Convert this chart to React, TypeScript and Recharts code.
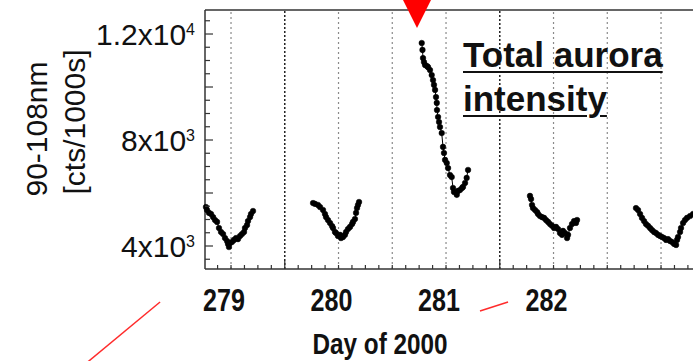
import React from "react";
import { LineChart, Line, XAxis, YAxis, Scatter, ReferenceLine } from "recharts";

const FONT = '"Liberation Sans", Arial, Helvetica, sans-serif';

// 90-108 nm counts per 1000 s, one pair of arrays per observing window
const pass1Days = [278.767, 278.777, 278.795, 278.814, 278.833, 278.851, 278.87, 278.888, 278.907, 278.926, 278.944, 278.963, 278.972, 278.981, 278.991, 279.009, 279.028, 279.047, 279.065, 279.084, 279.102, 279.121, 279.13, 279.149, 279.158, 279.177, 279.186, 279.205];
const pass1Counts = [5470, 5360, 5250, 5210, 5090, 4980, 4910, 4680, 4530, 4450, 4300, 4190, 4080, 3960, 4110, 4150, 4230, 4300, 4260, 4380, 4450, 4530, 4680, 4790, 4940, 5090, 5210, 5320];

const pass2Days = [279.763, 279.781, 279.809, 279.828, 279.856, 279.874, 279.884, 279.902, 279.921, 279.94, 279.949, 279.967, 279.977, 279.995, 280.014, 280.023, 280.042, 280.06, 280.07, 280.088, 280.107, 280.126, 280.135, 280.153, 280.163, 280.172, 280.181, 280.191];
const pass2Counts = [5620, 5590, 5550, 5470, 5360, 5210, 5090, 4980, 4870, 4750, 4680, 4530, 4490, 4380, 4420, 4300, 4340, 4420, 4530, 4640, 4720, 4830, 4910, 5020, 5250, 5430, 5550, 5660];

const pass3Days = [280.774, 280.781, 280.786, 280.795, 280.805, 280.823, 280.833, 280.851, 280.867, 280.879, 280.888, 280.898, 280.907, 280.914, 280.916, 280.926, 280.935, 280.944, 280.96, 280.972, 280.981, 280.991, 281.007, 281.019, 281.037, 281.053, 281.065, 281.074, 281.1, 281.112, 281.13, 281.149, 281.158, 281.177, 281.192, 281.205];
const pass3Counts = [11660, 11400, 11090, 10940, 10830, 10790, 10750, 10640, 10450, 10260, 10080, 9890, 9620, 9400, 9130, 8870, 8680, 8490, 8260, 7740, 7510, 7250, 7130, 6940, 6680, 6600, 6190, 6040, 5930, 6080, 6110, 6190, 6230, 6380, 6570, 6870];

const pass4Days = [281.781, 281.791, 281.8, 281.809, 281.828, 281.847, 281.856, 281.874, 281.893, 281.912, 281.93, 281.949, 281.967, 281.986, 282.005, 282.023, 282.042, 282.06, 282.079, 282.088, 282.107, 282.126, 282.135, 282.153, 282.172, 282.191, 282.209, 282.219];
const pass4Counts = [5890, 5770, 5550, 5430, 5360, 5280, 5210, 5130, 5090, 5060, 4980, 4910, 4830, 4760, 4680, 4720, 4640, 4490, 4420, 4570, 4490, 4300, 4420, 4680, 4830, 4940, 4870, 4980];

const pass5Days = [282.767, 282.786, 282.805, 282.823, 282.842, 282.86, 282.879, 282.898, 282.916, 282.935, 282.953, 282.972, 282.991, 283.009, 283.028, 283.047, 283.065, 283.084, 283.102, 283.121, 283.14, 283.149, 283.158, 283.177, 283.186, 283.205, 283.223, 283.242, 283.27, 283.298];
const pass5Counts = [5430, 5360, 5210, 5060, 4940, 4830, 4760, 4680, 4600, 4530, 4490, 4420, 4380, 4340, 4300, 4230, 4260, 4190, 4150, 4080, 4040, 4230, 4340, 4530, 4680, 4870, 4980, 5060, 5130, 5210];

// red wedge above the plot marking the event
const eventDays = [280.73];
const eventCounts = [12226];

// stray red connector strokes from the neighbouring panel
const connectorA = [
  { day: 278.34, counts: 1887 },
  { day: 277.66, counts: -400 },
];
const connectorB = [
  { day: 281.316, counts: 1547 },
  { day: 281.577, counts: 1887 },
];

const dayDomain = [278.758, 283.316];
const countDomain = [3132, 12906];
const dayLabels = [279, 280, 281, 282];
const gridDays = [279, 279.5, 280, 280.5, 281, 281.5, 282, 282.5, 283];
const heavyGridDays = [279.5, 281.5];
const countTicks = [3500, 4000, 4500, 5000, 5500, 6000, 6500, 7000, 7500, 8000, 8500, 9000, 9500, 10000, 10500, 11000, 11500, 12000, 12500];
const countLabels: Record<number, [string, string]> = {
  4000: ["4x10", "3"],
  8000: ["8x10", "3"],
  12000: ["1.2x10", "4"],
};

// minor x ticks every 3 hours
const dayTicks: number[] = [];
for (let d = 278.875; d <= 283.3; d += 0.125) dayTicks.push(Math.round(d * 1000) / 1000);

const toPoints = (days: number[], counts: number[]) =>
  days.map((day, i) => ({ day, counts: counts[i] }));

const passes = [
  toPoints(pass1Days, pass1Counts),
  toPoints(pass2Days, pass2Counts),
  toPoints(pass3Days, pass3Counts),
  toPoints(pass4Days, pass4Counts),
  toPoints(pass5Days, pass5Counts),
];
const events = toPoints(eventDays, eventCounts);

const AXIS = "#333";

function BottomTick({ x, y, payload }: any) {
  const v = payload.value;
  const long = heavyGridDays.includes(v);
  return (
    <g>
      <line x1={x} x2={x} y1={y} y2={y - (long ? 8 : 4)} stroke={AXIS} strokeWidth={1.2} />
      {dayLabels.includes(v) && (
        <text
          transform={`translate(${x - 7},${y + 42}) scale(0.81,1)`}
          textAnchor="middle"
          fontFamily={FONT}
          fontWeight="bold"
          fontSize={31}
          fill="#111"
        >
          {v}
        </text>
      )}
    </g>
  );
}

function TopTick({ x, y, payload }: any) {
  const long = heavyGridDays.includes(payload.value);
  return <line x1={x} x2={x} y1={y} y2={y + (long ? 8 : 4)} stroke={AXIS} strokeWidth={1.2} />;
}

function LeftTick({ x, y, payload }: any) {
  const v = payload.value;
  const major = v % 2000 === 0;
  const label = countLabels[v];
  return (
    <g>
      <line x1={x} x2={x + (major ? 8 : 5)} y1={y} y2={y} stroke={AXIS} strokeWidth={1.2} />
      {label && (
        <text x={x - 10} y={y + 11} textAnchor="end" fontFamily={FONT} fontSize={30} fill="#111">
          {label[0]}
          <tspan fontSize={16} dy={-10}>
            {label[1]}
          </tspan>
        </text>
      )}
    </g>
  );
}

function RightTick({ x, y, payload }: any) {
  const major = payload.value % 2000 === 0;
  return <line x1={x} x2={x - (major ? 8 : 5)} y1={y} y2={y} stroke={AXIS} strokeWidth={1.2} />;
}

function Wedge({ cx, cy }: any) {
  return <polygon points={`${cx - 15},${cy - 30} ${cx + 15},${cy - 30} ${cx},${cy}`} fill="#ff0000" />;
}

function YTitle() {
  return (
    <g fontFamily={FONT} fontSize={30} fill="#111" textAnchor="middle">
      <text transform="translate(36,129) rotate(-90)" dominantBaseline="central">
        90-108nm
      </text>
      <text transform="translate(74,122) rotate(-90)" dominantBaseline="central">
        [cts/1000s]
      </text>
    </g>
  );
}

function XTitle() {
  return (
    <text
      transform="translate(380,354) scale(0.81,1)"
      textAnchor="middle"
      fontFamily={FONT}
      fontWeight="bold"
      fontSize={30}
      fill="#111"
    >
      Day of 2000
    </text>
  );
}

export default function App() {
  return (
    <div
      style={{
        position: "absolute",
        left: 0,
        top: 0,
        width: 693,
        height: 361,
        overflow: "hidden",
        background: "#fff",
      }}
    >
      <LineChart width={700} height={361} margin={{ top: 9, right: 4, bottom: 91, left: 204 }}>
        <XAxis
          type="number"
          dataKey="day"
          domain={dayDomain}
          ticks={dayTicks}
          interval={0}
          height={1}
          tickSize={0}
          tickMargin={0}
          tickLine={false}
          tick={<BottomTick />}
          axisLine={{ stroke: AXIS, strokeWidth: 1.5 }}
          label={<XTitle />}
        />
        <XAxis
          xAxisId="top"
          orientation="top"
          type="number"
          dataKey="day"
          domain={dayDomain}
          ticks={dayTicks}
          interval={0}
          height={1}
          tickSize={0}
          tickMargin={0}
          tickLine={false}
          tick={<TopTick />}
          axisLine={{ stroke: AXIS, strokeWidth: 1.5 }}
        />
        <YAxis
          type="number"
          dataKey="counts"
          domain={countDomain}
          ticks={countTicks}
          interval={0}
          width={1}
          tickSize={0}
          tickMargin={0}
          tickLine={false}
          tick={<LeftTick />}
          axisLine={{ stroke: AXIS, strokeWidth: 1.5 }}
          label={<YTitle />}
        />
        <YAxis
          yAxisId="right"
          orientation="right"
          type="number"
          domain={countDomain}
          ticks={countTicks}
          interval={0}
          width={1}
          tickSize={0}
          tickMargin={0}
          tickLine={false}
          tick={<RightTick />}
          axisLine={{ stroke: AXIS, strokeWidth: 1.5 }}
        />

        {gridDays.map((d) => {
          const heavy = heavyGridDays.includes(d);
          return (
            <ReferenceLine
              key={d}
              x={d}
              stroke={heavy ? "#222" : "#8a8a8a"}
              strokeWidth={heavy ? 1.5 : 1.2}
              strokeDasharray={heavy ? "2 2" : "2 3"}
            />
          );
        })}

        <ReferenceLine segment={connectorA.map((p) => ({ x: p.day, y: p.counts }))} stroke="#ff2b2b" strokeWidth={1.5} ifOverflow="visible" />
        <ReferenceLine segment={connectorB.map((p) => ({ x: p.day, y: p.counts }))} stroke="#ff2b2b" strokeWidth={1.5} ifOverflow="visible" />

        {passes.map((pts, i) => (
          <Line
            key={i}
            data={pts}
            dataKey="counts"
            type="linear"
            stroke="#000"
            strokeWidth={1}
            dot={{ r: 2.8, fill: "#000", stroke: "#000", strokeWidth: 0.5 }}
            activeDot={false}
            isAnimationActive={false}
          />
        ))}

        <Scatter data={events} dataKey="counts" shape={<Wedge />} isAnimationActive={false} />
      </LineChart>

      <div
        style={{
          position: "absolute",
          left: 463,
          top: 33,
          fontFamily: FONT,
          fontWeight: "bold",
          fontSize: 35,
          lineHeight: "44px",
          color: "#111",
          textDecoration: "underline",
          textDecorationThickness: "2px",
          textUnderlineOffset: "4px",
          whiteSpace: "nowrap",
        }}
      >
        Total aurora
        <br />
        intensity
      </div>
    </div>
  );
}
